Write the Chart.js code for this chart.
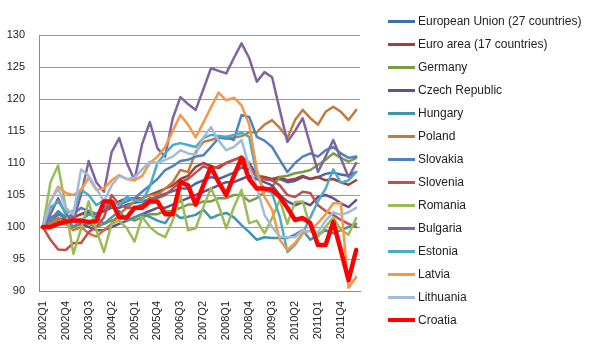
<!DOCTYPE html>
<html>
<head>
<meta charset="utf-8">
<script src="https://cdn.jsdelivr.net/npm/chart.js@4.4.0/dist/chart.umd.min.js"></script>
<style>
  body { margin: 0; background: #fff; }
  #wrap { position: relative; width: 600px; height: 353px; }
  #legend { position: absolute; left: 388px; top: 0; font: 12px "Liberation Sans", Arial, sans-serif; color: #222; }
  .item { position: absolute; left: 0; height: 16px; display: flex; align-items: center; white-space: nowrap; }
  .swatch { width: 27px; margin-right: 3px; }
</style>
</head>
<body>
<div id="wrap">
  <canvas id="chart" width="600" height="353"></canvas>
  <div id="legend"></div>
</div>
<script>
// quarters on the x axis
const quarters = [
    '2002Q1', '2002Q2', '2002Q3', '2002Q4', '2003Q1', '2003Q2', '2003Q3', '2003Q4',
    '2004Q1', '2004Q2', '2004Q3', '2004Q4', '2005Q1', '2005Q2', '2005Q3', '2005Q4',
    '2006Q1', '2006Q2', '2006Q3', '2006Q4', '2007Q1', '2007Q2', '2007Q3', '2007Q4',
    '2008Q1', '2008Q2', '2008Q3', '2008Q4', '2009Q1', '2009Q2', '2009Q3', '2009Q4',
    '2010Q1', '2010Q2', '2010Q3', '2010Q4', '2011Q1', '2011Q2', '2011Q3', '2011Q4',
    '2012Q1', '2012Q2'
];
const yTicks = [90, 95, 100, 105, 110, 115, 120, 125, 130];

// index values, 2002Q1 = 100
const eu = [100, 100.8, 101.3, 101.2, 101.5, 102, 102.2, 102, 102.5, 103, 103, 103.5, 103.8, 104, 104.3, 104.8, 105.2, 105.6, 106, 106, 106.8, 107.3, 107.8, 107.5, 108, 108.5, 109.3, 109, 108, 107.5, 107.3, 107.5, 107, 107.2, 107.8, 107.5, 107.8, 108.3, 108.5, 108.2, 108, 108.6];
const euroArea = [100, 100.5, 101, 101.5, 101.5, 102, 102.5, 102, 102.5, 103.5, 104, 104.5, 104.5, 104.5, 105, 105.5, 106, 106.5, 107.5, 108, 109.4, 110, 109.5, 109.2, 110, 110.5, 111, 110, 108, 107.8, 107.5, 107.8, 107.3, 107.5, 108, 107.5, 107.8, 107.3, 107.5, 107, 106.6, 107.3];
const germany = [100, 100.5, 101, 100.5, 100, 100.5, 100.5, 100, 100.5, 101, 101.5, 101.5, 101, 101.5, 102, 102, 102.5, 102.5, 103, 103.5, 103.5, 104, 104, 104.5, 104.5, 105, 105, 104, 104.5, 105.5, 106.3, 107.8, 108, 108.4, 108.6, 108.9, 109.7, 110.5, 111.5, 110.8, 110.2, 110.8];
const czech = [100, 101, 102, 101.5, 101, 100.5, 100, 99.5, 99.5, 100, 100.5, 101, 101.5, 102, 102.5, 103, 103, 103.5, 104, 104.5, 105, 105.5, 106, 106.5, 107, 107, 107.5, 108, 107.5, 107, 106.5, 105, 104, 103.4, 103.9, 103.4, 104.7, 105, 104.5, 103.7, 103.1, 104.2];
const hungary = [100, 101, 102.5, 101.5, 100, 101, 102, 101.5, 100.5, 101.5, 102.5, 101, 101.5, 102, 101.6, 101, 100.6, 102.3, 101.4, 101.6, 101.9, 102.7, 101.4, 101.9, 102.2, 101.5, 100.3, 99.2, 98, 98.4, 98.3, 98.3, 98.3, 98.8, 99.5, 98, 98.8, 99.5, 99, 99.5, 100, 100.5];
const poland = [100, 100.5, 101.5, 100.5, 99.5, 100, 99, 98.5, 99.5, 100.5, 102, 103, 104, 104.5, 105, 105, 106, 107, 108.9, 108.6, 111.7, 113.3, 113.6, 114, 113.8, 114, 114.2, 114.8, 114.8, 116, 116.7, 115.5, 113.9, 116.7, 118.3, 117, 116, 118, 118.8, 118, 116.7, 118.3];
const slovakia = [100, 101.5, 102, 101.5, 102, 103, 102.5, 102, 103, 104, 103.5, 104, 104.5, 105.5, 106.5, 107.5, 108.9, 109.5, 110.3, 110.5, 111, 111.2, 112.5, 113.9, 114, 113.6, 117.5, 117.2, 114.1, 113.5, 112.5, 110.5, 108.6, 110, 111, 111.5, 111, 112, 112.5, 111.5, 110.8, 111];
const slovenia = [100, 98, 96.5, 96.4, 97.5, 97.5, 99.2, 100, 101.5, 105, 103.5, 103, 103, 103.5, 104.5, 104.5, 105, 106, 107, 107.5, 108.5, 109.5, 109, 109.5, 110, 110.5, 110.8, 109.5, 107.8, 107.5, 107.3, 106.5, 105, 104.7, 105.5, 105.3, 103.4, 102.5, 101.9, 101.1, 100.5, 100];
const romania = [100, 107, 109.6, 103, 95.8, 99.7, 104, 99.5, 96.1, 100.5, 101, 99.8, 97.7, 101.6, 100, 99, 98.4, 101, 105, 99.5, 99.8, 103.1, 106.1, 103.4, 99.8, 103.1, 105.8, 100.6, 101, 99, 101.4, 104.2, 100.5, 103.9, 104, 100, 98.5, 100, 101.5, 99.5, 98.8, 101.4];
const bulgaria = [100, 102, 104.5, 102, 101, 105, 110.3, 107, 105.5, 111.7, 113.9, 110, 107.3, 113, 116.4, 112.3, 111, 117, 120.3, 119.2, 118.3, 121.5, 124.8, 124.4, 124, 126.4, 128.7, 126.4, 122.7, 124.2, 123.4, 118.3, 113.3, 115, 117, 112.8, 108.6, 111, 113.6, 110.7, 107.8, 110];
const estonia = [100, 103, 104, 102.2, 102.5, 105.8, 105, 103.4, 104.2, 104, 103.4, 104.7, 104.2, 104, 106.3, 110, 111.5, 112.8, 113.1, 112.8, 112.5, 113.9, 114.4, 114.2, 114.1, 114.4, 114.7, 114.1, 108, 105.8, 105.3, 101.6, 96.1, 97.2, 99, 101.5, 104, 106, 109, 106.9, 107.3, 108.6];
const latvia = [100, 104, 106.3, 105.3, 105, 105.8, 107.7, 105.8, 106, 107.3, 108.1, 107.5, 107.3, 108, 110, 111, 112.5, 115, 117.5, 116, 114, 116.3, 118.7, 121, 119.8, 120.2, 119, 116, 109, 104.7, 102.7, 98, 96.4, 97.5, 99, 99.5, 100.6, 102, 103.7, 103.7, 90.5, 92.2];
const lithuania = [100, 104, 106, 103, 102, 109, 108, 106, 104, 106.5, 108, 107.5, 107.7, 109, 110.2, 110, 110.5, 111, 112, 111.5, 111.3, 114, 115.6, 113.5, 112, 112.5, 113.6, 109.4, 106.3, 101.9, 100, 98.5, 98.4, 98.4, 99.5, 99.3, 99.2, 101, 102.3, 101.9, 102.3, 103];
const croatia = [100, 100, 100.5, 100.8, 101, 101, 100.8, 100.9, 104, 104, 101.5, 101.5, 103, 103, 104, 104, 102, 102, 107, 106.5, 103.5, 106.5, 109.4, 107, 105, 108, 110.8, 107.5, 106, 106, 105.8, 104.7, 103, 101.1, 101.4, 100.6, 97.2, 97.2, 100.8, 96.3, 91.7, 96.4];

const seriesNames = ['European Union (27 countries)', 'Euro area (17 countries)', 'Germany', 'Czech Republic', 'Hungary', 'Poland',
    'Slovakia', 'Slovenia', 'Romania', 'Bulgaria', 'Estonia', 'Latvia', 'Lithuania', 'Croatia'];
const seriesValues = [eu, euroArea, germany, czech, hungary, poland, slovakia, slovenia, romania, bulgaria, estonia, latvia, lithuania, croatia];
const seriesColors = ['#3F6DAA', '#A23E3B', '#7A9A43', '#66508C', '#3A97AD', '#C8793A',
    '#4F81BD', '#C0504D', '#9BBB59', '#8064A2', '#4BACC6', '#F79646', '#A3BBDB', '#FF0000'];

const fontFamily = '"Liberation Sans", Arial, sans-serif';

const datasets = seriesNames.map((name, i) => ({
    label: name,
    data: seriesValues[i],
    borderColor: seriesColors[i],
    backgroundColor: seriesColors[i],
    borderWidth: name === 'Croatia' ? 4.5 : 2.5,
    borderJoinStyle: 'round',
    borderCapStyle: 'round',
    pointRadius: 0,
    pointHoverRadius: 0,
    tension: 0,
    fill: false,
    order: seriesNames.length - i   // later series drawn on top, like Excel
}));

const chart = new Chart(document.getElementById('chart'), {
    type: 'line',
    data: { labels: quarters, datasets },
    options: {
        responsive: false,
        animation: false,
        layout: { padding: { left: 0, top: 35, right: 240, bottom: 0 } },
        plugins: { legend: { display: false }, tooltip: { enabled: false } },
        scales: {
            x: {
                offset: true,
                grid: { display: false, drawTicks: false },
                border: { display: true, color: '#8c8c8c', width: 1 },
                ticks: {
                    autoSkip: false,
                    minRotation: 90,
                    maxRotation: 90,
                    padding: 10,
                    color: '#222',
                    font: { family: fontFamily, size: 11 },
                    callback: (v, i) => (i % 3 === 0 ? quarters[i] : null)
                },
                afterFit: (s) => { s.height = 62; }
            },
            y: {
                min: yTicks[0],
                max: yTicks[yTicks.length - 1],
                afterBuildTicks: (s) => { s.ticks = yTicks.map(v => ({ value: v })); },
                grid: { color: '#9a9a9a', lineWidth: 1, drawTicks: false },
                border: { display: true, color: '#8c8c8c', width: 1 },
                ticks: {
                    padding: 14,
                    color: '#222',
                    font: { family: fontFamily, size: 11 }
                },
                afterFit: (s) => { s.width = 39; }
            }
        }
    }
});

// legend on the right, built from the datasets
const legend = document.getElementById('legend');
chart.data.datasets.forEach((ds, k) => {
    const row = document.createElement('div');
    row.className = 'item';
    row.style.top = (21 + 23 * k - 8) + 'px';
    const sw = document.createElement('span');
    sw.className = 'swatch';
    sw.style.height = (ds.label === 'Croatia' ? 4 : 3) + 'px';
    sw.style.background = ds.borderColor;
    const txt = document.createElement('span');
    txt.textContent = ds.label;
    row.appendChild(sw);
    row.appendChild(txt);
    legend.appendChild(row);
});
</script>
</body>
</html>
